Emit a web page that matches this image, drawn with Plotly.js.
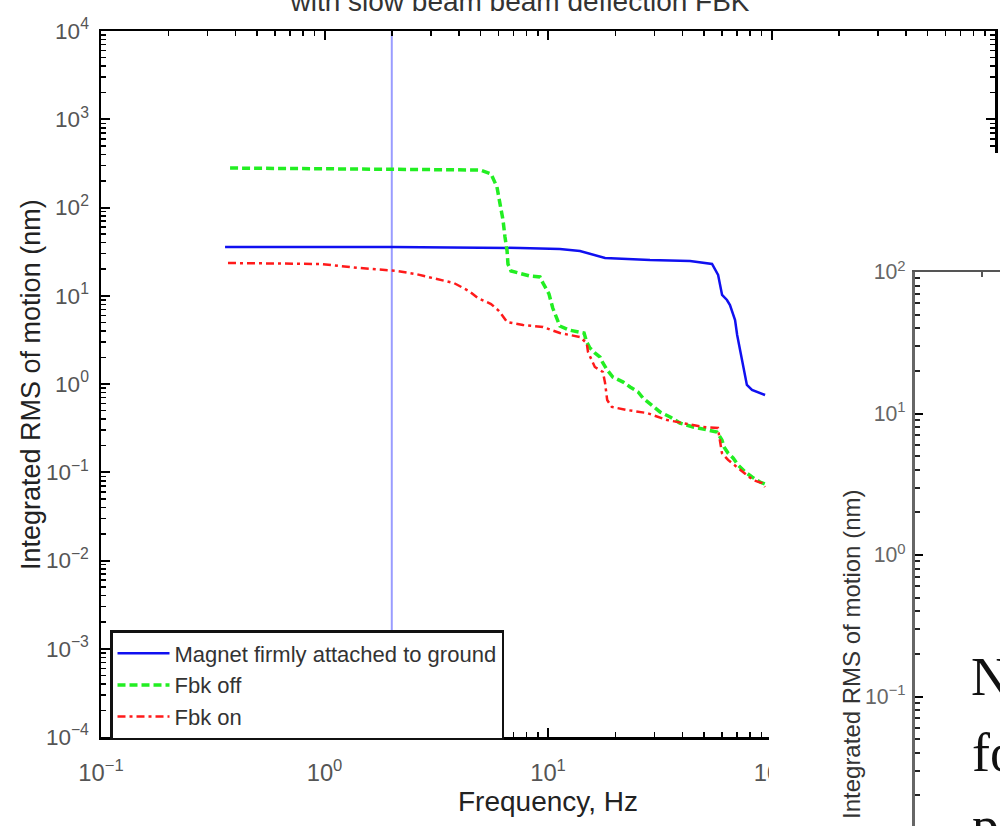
<!DOCTYPE html>
<html>
<head>
<meta charset="utf-8">
<script src="https://cdn.plot.ly/plotly-3.0.1.min.js"></script>
<style>html,body{margin:0;padding:0;background:#fff;}#chart{width:1000px;height:826px;}</style>
</head>
<body>
<div id="chart"></div>
<script>
// ---- data ----
const titleText = 'with slow beam beam deflection FBK';
const seriesNames = ['Magnet firmly attached to ground', 'Fbk off', 'Fbk on'];

const markerFreq = [2, 2];          // vertical marker line, Hz
const markerSpan = [1e-4, 1e4];

const blueF = [0.359, 2.0, 7.5, 11.3, 13.9, 18.0, 28.6, 43.2, 54.2, 57.7, 60.1, 63.2, 65.2, 68.7, 70.2, 72.3, 74.6, 77.6, 81.8, 87.1, 93.6];
const blueV = [35.7, 35.7, 34.8, 33.9, 32.1, 26.8, 25.4, 24.8, 22.9, 17.2, 10.2, 8.95, 7.85, 5.31, 3.59, 2.43, 1.64, 0.975, 0.855, 0.81, 0.75];

const greenF = [0.378, 4.96, 5.56, 5.91, 6.10, 6.29, 6.42, 6.56, 6.62, 6.83, 8.31, 9.21, 9.50, 10.1, 10.5, 10.9, 11.3, 12.4, 14.5, 14.9, 15.4, 16.2, 17.1, 17.6, 18.4, 19.5, 21.7, 23.3, 25.3, 26.6, 29.2, 31.7, 35.2, 38.9, 44.6, 53.1, 57.0, 60.0, 61.3, 63.9, 67.3, 70.8, 76.1, 81.8, 88.8, 93.5];
const greenV = [280, 266, 240, 171, 110, 72.2, 46.3, 32.1, 22.9, 19.1, 16.7, 16.3, 13.9, 10.5, 7.26, 5.60, 4.54, 4.09, 3.78, 2.99, 2.56, 2.25, 2.02, 1.73, 1.44, 1.20, 1.05, 0.925, 0.812, 0.694, 0.578, 0.482, 0.423, 0.361, 0.326, 0.301, 0.286, 0.232, 0.193, 0.165, 0.145, 0.121, 0.101, 0.0884, 0.0775, 0.0736];

const redF = [0.370, 0.955, 1.44, 2.11, 2.57, 3.06, 3.80, 4.43, 4.86, 5.56, 6.04, 6.56, 7.73, 9.50, 11.3, 13.9, 14.9, 15.1, 16.2, 17.6, 18.0, 18.4, 19.3, 22.6, 27.7, 34.1, 40.2, 49.4, 57.6, 58.8, 60.0, 63.9, 70.8, 77.7, 82.6, 90.7, 93.5];
const redV = [23.5, 22.9, 20.6, 19.1, 17.6, 15.9, 13.9, 11.3, 9.43, 8.06, 6.72, 5.04, 4.66, 4.43, 3.78, 3.41, 2.91, 2.31, 1.56, 1.37, 1.03, 0.659, 0.549, 0.507, 0.469, 0.391, 0.361, 0.326, 0.317, 0.232, 0.165, 0.138, 0.112, 0.0931, 0.0817, 0.0755, 0.0681];

// decade tick labels: Plotly writes 10^0 as "1" and 10^1 as "10"; show them as powers
const tickLabelAlias = {'1': '10<sup>0</sup>', '10': '10<sup>1</sup>'};

const yTitleText = 'Integrated RMS of motion (nm)';
const xTitleText = 'Frequency, Hz';
const sideText = ['N', 'fo', 'p'];

// ---- chart ----
const SANS = 'Liberation Sans, Arial, sans-serif';
const SERIF = 'Liberation Serif, Times New Roman, serif';
const traces = [
  {x: markerFreq, y: markerSpan, type: 'scatter', mode: 'lines', line: {color: '#9a9cff', width: 2}, showlegend: false, hoverinfo: 'skip'},
  {x: blueF, y: blueV, type: 'scatter', mode: 'lines', name: seriesNames[0], line: {color: '#1010f0', width: 2.5}},
  {x: greenF, y: greenV, type: 'scatter', mode: 'lines', name: seriesNames[1], line: {color: '#22ee22', width: 3.5, dash: '8px,4px'}},
  {x: redF, y: redV, type: 'scatter', mode: 'lines', name: seriesNames[2], line: {color: '#ff1a1a', width: 2.5, dash: '8px,4px,3px,4px'}},
  // empty traces that create the covering panel and the second chart
  {x: [], y: [], xaxis: 'x2', yaxis: 'y2', type: 'scatter', showlegend: false},
  {x: [], y: [], xaxis: 'x3', yaxis: 'y3', type: 'scatter', showlegend: false}
];

const axisCommon = {
  type: 'log', showgrid: false, zeroline: false, showline: true, linecolor: '#000', linewidth: 2.5,
  ticks: 'inside', ticklen: 9, tickwidth: 2, tickcolor: '#000', mirror: 'ticks',
  tickmode: 'linear', tick0: 0, dtick: 1, exponentformat: 'power', labelalias: tickLabelAlias,
  automargin: false,
  tickfont: {family: SANS, size: 19, color: '#555'},
  minor: {ticks: 'inside', ticklen: 5, tickwidth: 1.5, tickcolor: '#000', dtick: 'D1', showgrid: false}
};

const layout = {
  width: 1000, height: 826,
  margin: {l: 0, r: 0, t: 0, b: 0},
  paper_bgcolor: '#fff', plot_bgcolor: '#fff',
  font: {family: SANS, color: '#333'},
  showlegend: true,
  title: {text: titleText, font: {family: SANS, size: 28, color: '#333'}, xref: 'container', yref: 'container', x: 0.52, xanchor: 'center', y: 0.9985, yanchor: 'middle', automargin: false},
  xaxis: Object.assign({}, axisCommon, {
    domain: [0.101, 0.995], range: [-1, 3], anchor: 'y', ticklabelstandoff: 14,
    title: {text: xTitleText, font: {family: SANS, size: 28, color: '#222'}, standoff: 7}
  }),
  yaxis: Object.assign({}, axisCommon, {
    domain: [1 - 737 / 826, 1 - 31 / 826], range: [-4, 4], anchor: 'x', ticklabelstandoff: 6,
    tickfont: {family: SANS, size: 18, color: '#555'}
  }),
  // invisible panel whose background hides the lower right of the main chart
  xaxis2: {domain: [0.769, 1], anchor: 'y2', visible: false, range: [0, 1]},
  yaxis2: {domain: [0, 1 - 153 / 826], anchor: 'x2', visible: false, range: [0, 1]},
  // second chart, partly visible
  xaxis3: {type: 'log', domain: [0.915, 1], anchor: 'y3', side: 'top', range: [-1, -0.62],
    showgrid: false, zeroline: false, showline: true, linecolor: '#555', linewidth: 2,
    ticks: 'inside', ticklen: 8, tickwidth: 2, tickcolor: '#000', tickmode: 'linear', tick0: 0, dtick: 1,
    showticklabels: false, automargin: false,
    minor: {ticks: 'inside', ticklen: 5, tickwidth: 2, tickcolor: '#555', dtick: 'D1'}},
  yaxis3: {type: 'log', domain: [0, 1 - 272 / 826], anchor: 'x3', range: [-1.915, 2],
    showgrid: false, zeroline: false, showline: true, linecolor: '#666', linewidth: 3,
    ticks: 'inside', ticklen: 8, tickwidth: 2, tickcolor: '#000',
    tickmode: 'linear', tick0: 0, dtick: 1, exponentformat: 'power', labelalias: tickLabelAlias,
    ticklabelstandoff: 3, automargin: false,
    tickfont: {family: SANS, size: 17, color: '#666'},
    minor: {ticks: 'inside', ticklen: 5, tickwidth: 2, tickcolor: '#222', dtick: 'D1'}},
  legend: {
    x: 0.110, y: 1 - 630 / 826, xanchor: 'left', yanchor: 'top',
    bgcolor: '#fff', bordercolor: '#111', borderwidth: 2.5,
    font: {family: SANS, size: 22, color: '#333'}, itemwidth: 52, traceorder: 'normal'
  },
  annotations: [
    {text: yTitleText, textangle: -90, xref: 'paper', yref: 'paper', x: 0.031, y: 1 - 385 / 826, xanchor: 'center', yanchor: 'middle', showarrow: false, font: {family: SANS, size: 27, color: '#222'}},
    {text: yTitleText, textangle: -90, xref: 'paper', yref: 'paper', x: 0.851, y: 1 - 655 / 826, xanchor: 'center', yanchor: 'middle', showarrow: false, font: {family: SANS, size: 24, color: '#333'}},
    {text: sideText[0], xref: 'paper', yref: 'paper', x: 0.969, y: 1 - 677 / 826, xanchor: 'left', yanchor: 'middle', showarrow: false, font: {family: SERIF, size: 54, color: '#111'}},
    {text: sideText[1], xref: 'paper', yref: 'paper', x: 0.970, y: 1 - 753 / 826, xanchor: 'left', yanchor: 'middle', showarrow: false, font: {family: SERIF, size: 54, color: '#111'}},
    {text: sideText[2], xref: 'paper', yref: 'paper', x: 0.970, y: 1 - 826 / 826, xanchor: 'left', yanchor: 'middle', showarrow: false, font: {family: SERIF, size: 54, color: '#111'}}
  ]
};

Plotly.newPlot('chart', traces, layout, {displayModeBar: false, staticPlot: true});
</script>
</body>
</html>
